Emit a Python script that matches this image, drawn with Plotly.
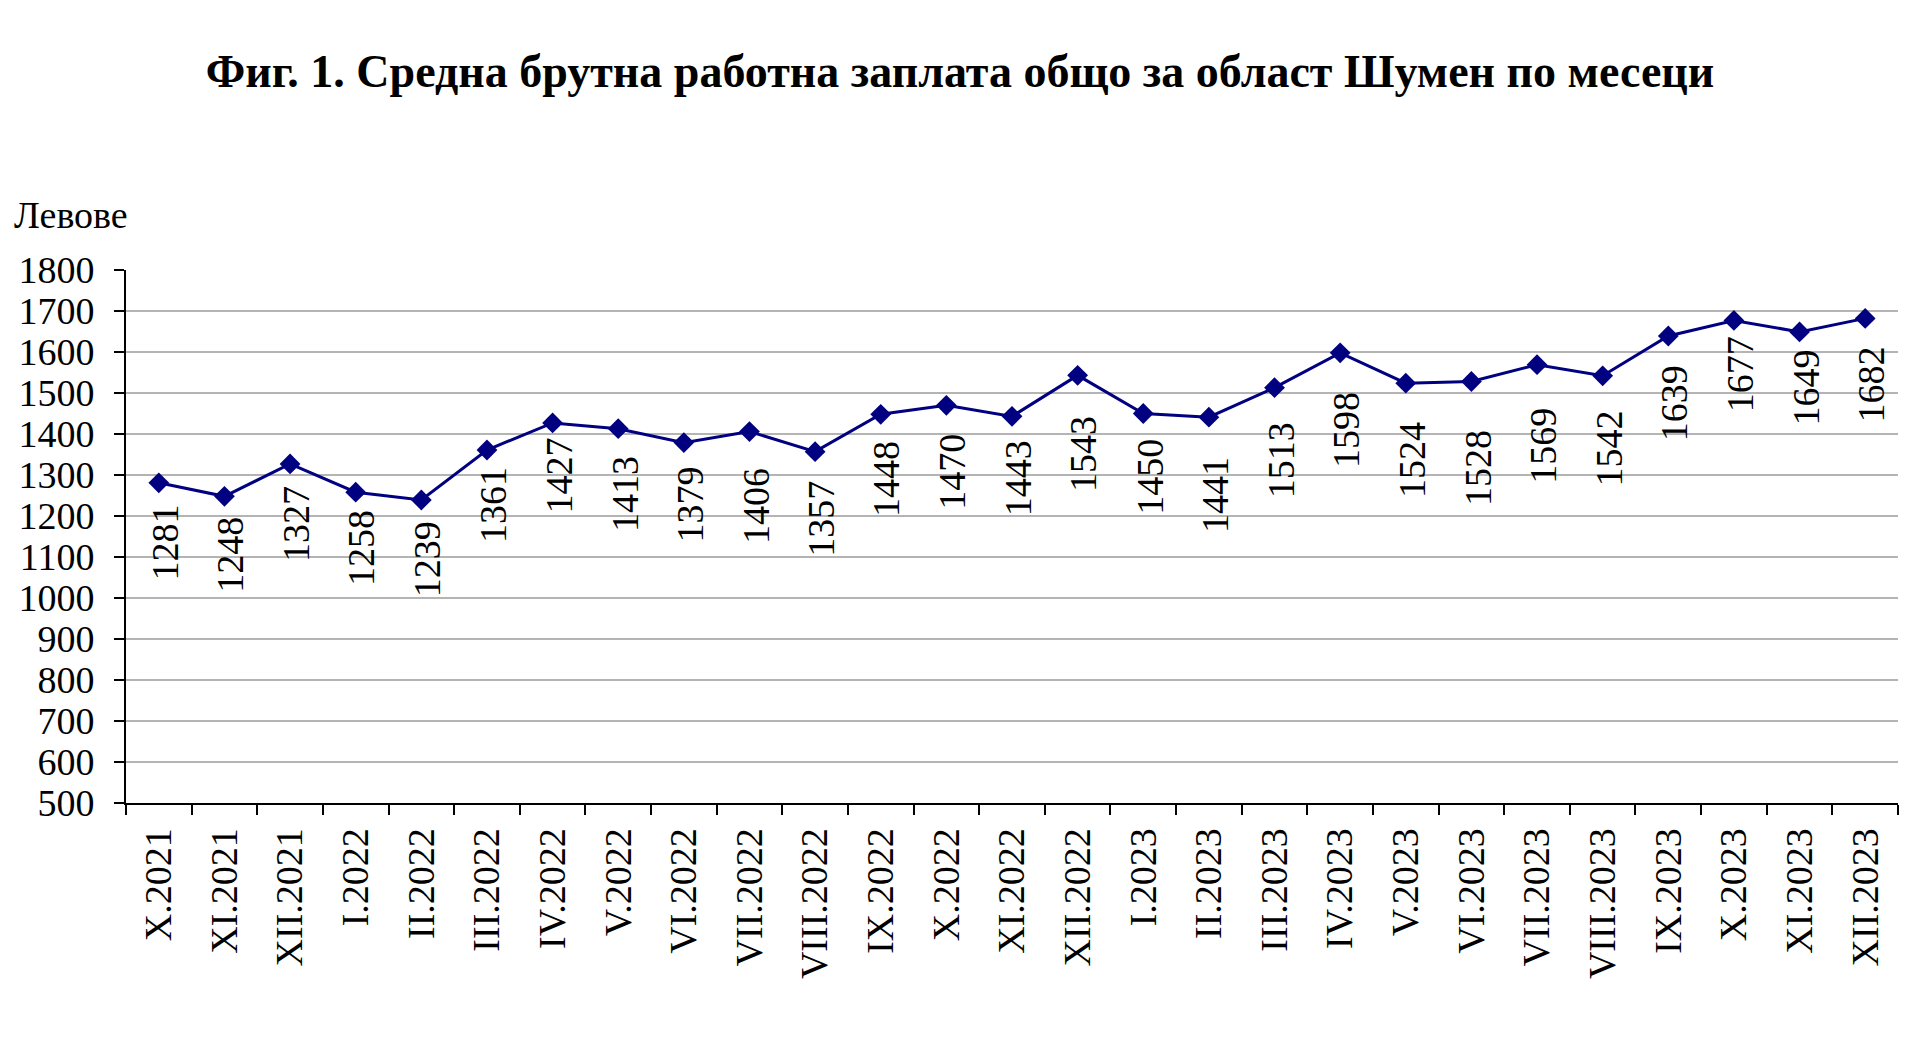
import plotly.graph_objects as go

categories = ["X.2021", "XI.2021", "XII.2021",
              "I.2022", "II.2022", "III.2022", "IV.2022", "V.2022", "VI.2022",
              "VII.2022", "VIII.2022", "IX.2022", "X.2022", "XI.2022", "XII.2022",
              "I.2023", "II.2023", "III.2023", "IV.2023", "V.2023", "VI.2023",
              "VII.2023", "VIII.2023", "IX.2023", "X.2023", "XI.2023", "XII.2023"]
wages = [1281, 1248, 1327, 1258, 1239, 1361, 1427, 1413, 1379, 1406, 1357, 1448,
         1470, 1443, 1543, 1450, 1441, 1513, 1598, 1524, 1528, 1569, 1542, 1639,
         1677, 1649, 1682]
y_ticks = list(range(500, 1801, 100))

# styling: pixel gap between each point and its (manually placed) data label
label_gap = [20, 18, 20, 16, 19, 15, 13, 25, 22, 34, 27, 25, 26, 22, 39, 23, 38,
             33, 37, 37, 46, 41, 33, 27, 14, 16, 26]

FONT = "Liberation Serif, Times New Roman, serif"
NAVY = "#000080"

ML, MR, MT, MB = 126, 22, 270, 260
W, H = 1920, 1063

fig = go.Figure()
fig.add_trace(go.Scatter(
    x=categories, y=wages, mode="lines+markers",
    line=dict(color=NAVY, width=3),
    marker=dict(symbol="diamond", size=16, color=NAVY),
    showlegend=False, hoverinfo="x+y",
))

for c, v, g in zip(categories, wages, label_gap):
    fig.add_annotation(
        x=c, y=v, xref="x", yref="y", text=str(v), showarrow=False,
        textangle=-90, yanchor="top", xanchor="center", yshift=-g, xshift=6,
        font=dict(family=FONT, size=38, color="#000000"),
    )

fig.add_annotation(
    x=(12 - ML) / (W - ML - MR), y=1 + (MT - 215) / (H - MT - MB),
    xref="paper", yref="paper", text="Левове", showarrow=False,
    xanchor="left", yanchor="middle",
    font=dict(family=FONT, size=38, color="#000000"),
)

fig.update_layout(
    width=W, height=H,
    margin=dict(l=ML, r=MR, t=MT, b=MB),
    paper_bgcolor="white", plot_bgcolor="white",
    title=dict(text="<b>Фиг. 1. Средна брутна работна заплата общо за област Шумен по месеци</b>",
               x=0.5, xanchor="center", y=1 - 71 / H, yanchor="middle",
               font=dict(family=FONT, size=46, color="#000000")),
    font=dict(family=FONT, size=38, color="#000000"),
)

fig.update_xaxes(
    type="category", tickangle=-90, tickson="boundaries",
    ticks="outside", ticklen=10, tickwidth=2, tickcolor="#000000",
    showline=True, linecolor="#000000", linewidth=2,
    showgrid=False, tickfont=dict(family=FONT, size=38, color="#000000"),
    ticklabelstandoff=8,
    range=[-0.5, len(categories) - 0.5],
)
fig.update_yaxes(
    range=[500, 1800], tickvals=y_ticks, ticks="outside", ticklen=10,
    tickwidth=2, tickcolor="#000000",
    showline=True, linecolor="#000000", linewidth=2,
    showgrid=True, gridcolor="#b4b4b4", gridwidth=2,
    zeroline=False, tickfont=dict(family=FONT, size=38, color="#000000"),
    ticklabelstandoff=12,
)

fig.write_html("out.html")
